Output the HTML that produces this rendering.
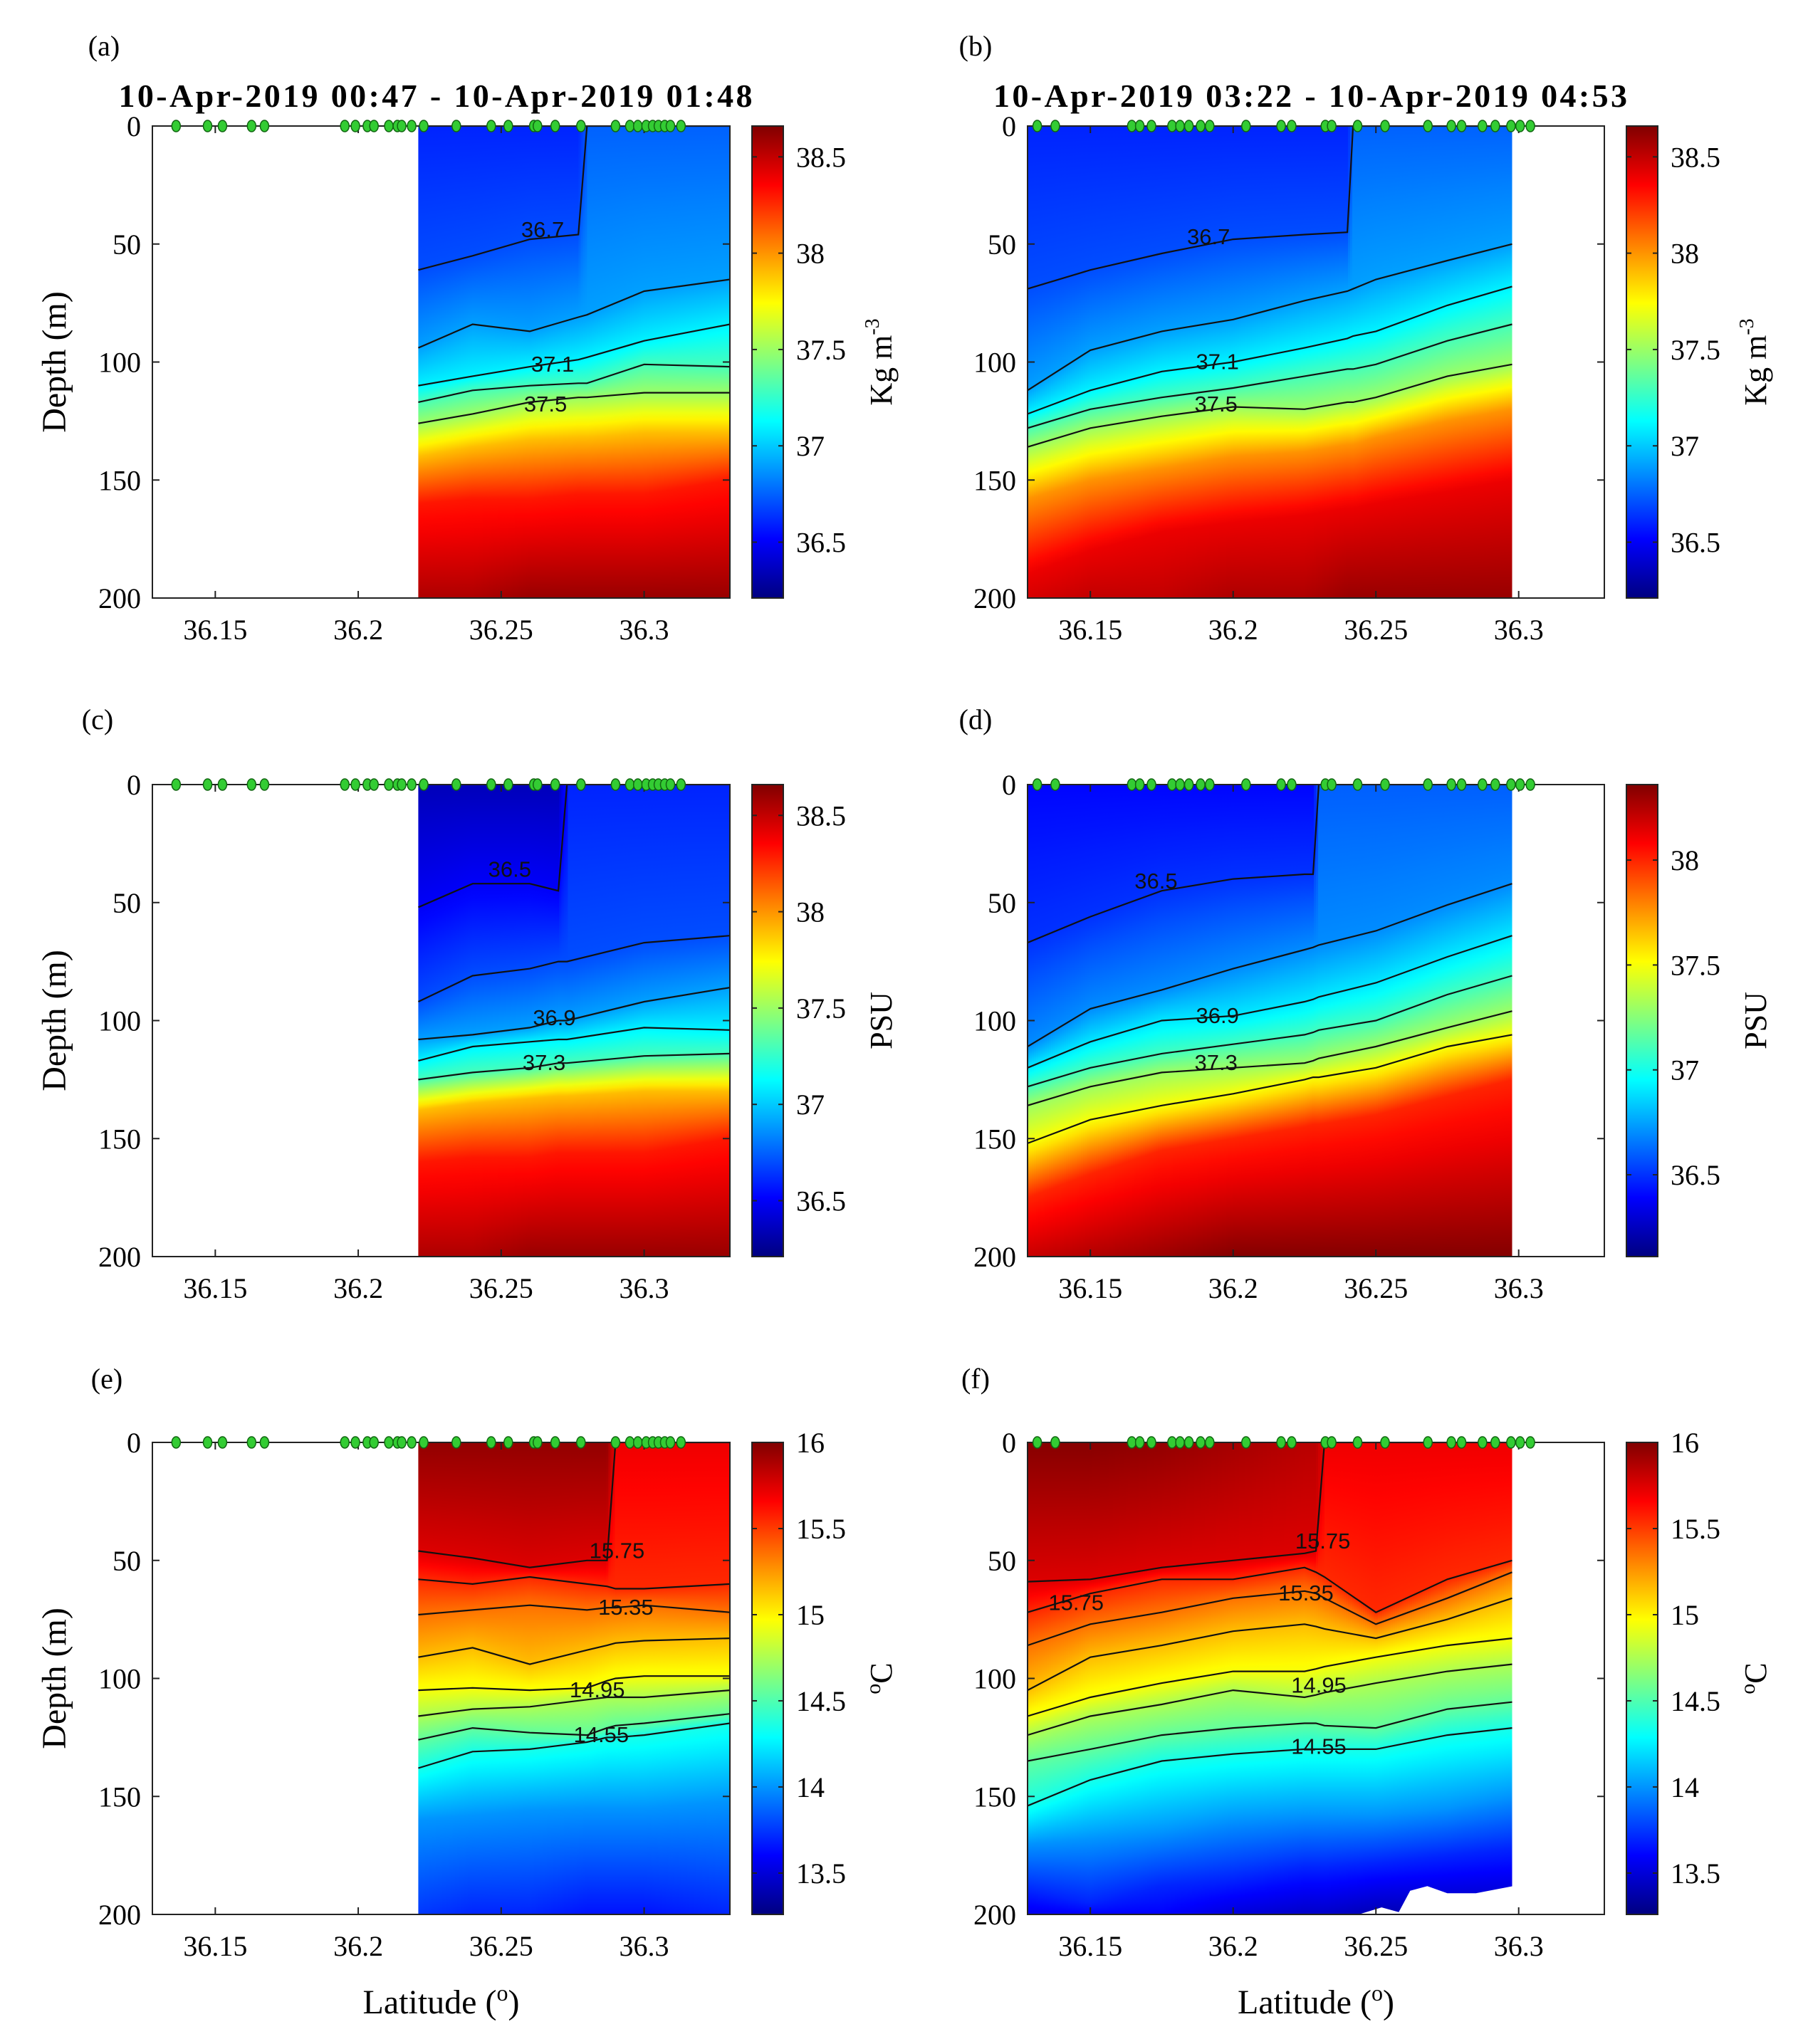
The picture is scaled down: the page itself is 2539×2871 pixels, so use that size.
<!DOCTYPE html>
<html><head><meta charset="utf-8"><style>
html,body{margin:0;padding:0;background:#fff}
svg text{font-family:"Liberation Serif",serif}
</style></head><body>
<svg id="fig" xmlns="http://www.w3.org/2000/svg" width="2539" height="2866" viewBox="0 0 2539 2866"></svg>
<script>
// ---------- data ----------
const xTickVals=[36.15,36.2,36.25,36.3];
const yTickVals=[0,50,100,150,200];
const densTicks=[36.5,37,37.5,38,38.5];
const salDTicks=[36.5,37,37.5,38];
const tempTicks=[13.5,14,14.5,15,15.5,16];
const stationsLeft=[36.1363,36.1473,36.1525,36.1627,36.1672,36.1953,36.199,36.2032,36.2055,36.2107,36.2137,36.2152,36.2187,36.2229,36.2343,36.2465,36.2525,36.2614,36.2627,36.2689,36.2779,36.29,36.295,36.2978,36.3007,36.303,36.305,36.3072,36.3092,36.3129];
const stationsRight=[36.1314,36.1377,36.1645,36.1673,36.1714,36.1786,36.1814,36.1845,36.1886,36.1918,36.2045,36.2168,36.2205,36.2323,36.2345,36.2436,36.2532,36.2682,36.2764,36.28,36.2873,36.2918,36.2973,36.3005,36.3041];

const aLats=[36.221,36.24,36.26,36.277,36.28,36.30,36.33];
const aLevels=[36.7,36.9,37.1,37.3,37.5,37.9,38.3];
const aDepths=[[61,55,48,46,0,0,0],[94,84,87,81,80,70,65],[110,106,102,99,98,91,84],[117,112,110,109,109,101,102],[126,122,117,115,115,113,113],[140,136,133,132,132,130,130],[160,158,158,156,156,156,150]];
const aTop=[36.6,36.6,36.6,36.6,36.75,36.75,36.75];
const aBot=[38.55,38.55,38.6,38.6,38.6,38.6,38.6];
const aLabels=[[36.2645,44,"36.7"],[36.268,101,"37.1"],[36.2655,118,"37.5"]];

const bLats=[36.128,36.15,36.175,36.2,36.225,36.24,36.242,36.25,36.275,36.298];
const bLevels=[36.7,36.9,37.1,37.3,37.5,38.0,38.4];
const bDepths=[[69,61,54,48,46,45,0,0,0,0],[112,95,87,82,74,70,69,65,57,50],[122,112,104,100,94,90,89,87,76,68],[128,120,115,111,106,103,103,101,91,84],[136,128,123,119,120,117,117,115,106,101],[158,150,145,140,138,135,135,132,125,120],[190,180,172,168,165,162,162,160,155,150]];
const bTop=[36.6,36.6,36.6,36.6,36.6,36.6,36.75,36.75,36.75,36.75];
const bBot=[38.45,38.5,38.5,38.55,38.55,38.6,38.6,38.6,38.6,38.6];
const bLabels=[[36.1914,47,"36.7"],[36.1945,100,"37.1"],[36.194,118,"37.5"]];

const cLats=[36.221,36.24,36.26,36.27,36.273,36.30,36.33];
const cLevels=[36.5,36.7,36.9,37.1,37.3,37.9,38.3];
const cDepths=[[52,42,42,45,0,0,0],[92,81,78,75,75,67,64],[108,106,103,100,100,92,86],[117,111,109,108,108,103,104],[125,122,120,118,118,115,114],[138,135,133,132,132,130,130],[160,158,158,156,156,156,150]];
const cTop=[36.35,36.35,36.35,36.35,36.6,36.6,36.6];
const cBot=[38.55,38.55,38.6,38.6,38.6,38.6,38.6];
const cLabels=[[36.253,36,"36.5"],[36.2686,99,"36.9"],[36.265,118,"37.3"]];

const dLats=[36.128,36.15,36.175,36.2,36.225,36.228,36.23,36.25,36.275,36.298];
const dLevels=[36.5,36.7,36.9,37.1,37.3,37.5,38.0];
const dDepths=[[67,56,45,40,38,38,0,0,0,0],[111,95,87,78,70,69,68,62,51,42],[120,109,100,98,92,91,90,84,73,64],[128,120,114,110,106,105,104,100,89,81],[136,128,122,120,118,117,116,111,103,96],[152,142,136,131,125,124,124,120,111,106],[175,165,155,150,145,144,144,140,132,125]];
const dTop=[36.4,36.4,36.4,36.4,36.4,36.4,36.6,36.6,36.6,36.6];
const dBot=[38.2,38.25,38.3,38.35,38.35,38.35,38.35,38.35,38.35,38.35];
const dLabels=[[36.173,41,"36.5"],[36.1945,98,"36.9"],[36.194,118,"37.3"]];

const eLats=[36.221,36.24,36.26,36.28,36.287,36.29,36.30,36.33];
const eLevels=[15.75,15.55,15.35,15.15,14.95,14.75,14.55,14.35,14.0];
const eDepths=[[46,49,53,50,50,0,0,0],[58,60,57,60,61,62,62,60],[73,71,69,71,70,70,69,72],[91,87,94,88,86,85,84,83],[105,104,105,104,101,100,99,99],[116,113,112,109,108,108,108,105],[126,121,123,124,121,120,119,115],[138,131,130,127,125,125,124,119],[160,158,156,155,155,155,155,152]];
const eTop=[15.95,15.95,15.95,15.95,15.95,15.7,15.7,15.7];
const eBot=[13.75,13.7,13.7,13.65,13.65,13.65,13.65,13.7];
const eLabels=[[36.2905,46,"15.75"],[36.2936,70,"15.35"],[36.2836,105,"14.95"],[36.285,124,"14.55"]];

const fLats=[36.128,36.15,36.175,36.2,36.225,36.229,36.232,36.25,36.275,36.298];
const fLevels=[15.75,15.55,15.35,15.15,14.95,14.75,14.55,14.35,14.0,13.7];
const fDepths=[[59,58,53,50,47,46,0,0,0,0],[72,64,58,58,53,55,57,72,58,50],[86,77,72,66,63,64,66,77,66,55],[105,91,86,80,77,78,79,83,75,66],[116,108,102,97,97,96,95,91,86,83],[124,116,111,105,108,107,106,102,97,94],[135,130,124,121,119,119,120,121,113,110],[154,143,135,132,130,130,130,130,124,121],[170,168,165,160,158,158,158,158,155,150],[190,195,188,185,180,180,180,178,175,172]];
const fTop=[15.98,15.98,15.95,15.9,15.85,15.85,15.7,15.7,15.7,15.7];
const fBot=[13.55,13.6,13.6,13.5,13.45,13.45,13.45,13.4,13.4,13.4];
const fLabels=[[36.2314,42,"15.75"],[36.2255,64,"15.35"],[36.23,103,"14.95"],[36.23,129,"14.55"],[36.145,68,"15.75"]];
const fNotchLats=[36.244,36.252,36.258,36.262,36.268,36.275,36.285,36.298];
const fNotchDepths=[200,197,199,190,188,191,191,188];

// ---------- layout ----------
const NS="http://www.w3.org/2000/svg";
const svg=document.getElementById('fig');
const defs=document.createElementNS(NS,'defs');svg.appendChild(defs);
const X0=36.128,X1=36.330;
const colX=[214,1443],colW=[811,810],cbX=[1056,2284],cbW=44;
const rowY=[177,1102,2026],H=663;
function mk(tag,attrs,parent){const e=document.createElementNS(NS,tag);for(const k in attrs)e.setAttribute(k,attrs[k]);(parent||svg).appendChild(e);return e;}
function jet(t){t=Math.max(0,Math.min(1,t));const c=v=>Math.round(255*Math.max(0,Math.min(1,v)));return `rgb(${c(1.5-Math.abs(4*t-3))},${c(1.5-Math.abs(4*t-2))},${c(1.5-Math.abs(4*t-1))})`;}
function lerpArr(xs,ys,x){if(x<=xs[0])return ys[0];for(let i=1;i<xs.length;i++){if(x<=xs[i]){const f=(x-xs[i-1])/(xs[i]-xs[i-1]);return ys[i-1]+f*(ys[i]-ys[i-1]);}}return ys[ys.length-1];}

const panels=[
 {id:'a',col:0,row:0,lats:aLats,levels:aLevels,depths:aDepths,top:aTop,bot:aBot,labels:aLabels,drawn:5,vmin:36.21,vmax:38.66,ticks:densTicks,unit:'Kg m',sup:'-3',x0:36.221,x1:36.330,stations:stationsLeft,title:'10-Apr-2019 00:47 - 10-Apr-2019 01:48',lab:'(a)',lx:146,ly:78},
 {id:'b',col:1,row:0,lats:bLats,levels:bLevels,depths:bDepths,top:bTop,bot:bBot,labels:bLabels,drawn:5,vmin:36.21,vmax:38.66,ticks:densTicks,unit:'Kg m',sup:'-3',x0:36.128,x1:36.2977,stations:stationsRight,title:'10-Apr-2019 03:22 - 10-Apr-2019 04:53',lab:'(b)',lx:1370,ly:78},
 {id:'c',col:0,row:1,lats:cLats,levels:cLevels,depths:cDepths,top:cTop,bot:cBot,labels:cLabels,drawn:5,vmin:36.21,vmax:38.66,ticks:densTicks,unit:'PSU',x0:36.221,x1:36.330,stations:stationsLeft,lab:'(c)',lx:137,ly:1024},
 {id:'d',col:1,row:1,lats:dLats,levels:dLevels,depths:dDepths,top:dTop,bot:dBot,labels:dLabels,drawn:6,vmin:36.11,vmax:38.36,ticks:salDTicks,unit:'PSU',x0:36.128,x1:36.2977,stations:stationsRight,lab:'(d)',lx:1370,ly:1024},
 {id:'e',col:0,row:2,lats:eLats,levels:eLevels,depths:eDepths,top:eTop,bot:eBot,labels:eLabels,drawn:8,vmin:13.26,vmax:16.0,ticks:tempTicks,unit:'C',deg:true,x0:36.221,x1:36.330,stations:stationsLeft,lab:'(e)',lx:150,ly:1950},
 {id:'f',col:1,row:2,lats:fLats,levels:fLevels,depths:fDepths,top:fTop,bot:fBot,labels:fLabels,drawn:8,vmin:13.26,vmax:16.0,ticks:tempTicks,unit:'C',deg:true,x0:36.128,x1:36.2977,stations:stationsRight,lab:'(f)',lx:1370,ly:1950}
];

panels.forEach(p=>{
  const px=colX[p.col],pw=colW[p.col],py=rowY[p.row];
  const xs=v=>px+(v-X0)/(X1-X0)*pw;
  const ys=d=>py+d/200*H;
  const norm=v=>(v-p.vmin)/(p.vmax-p.vmin);
  const g=mk('g',{});
  const clip=mk('clipPath',{id:'clip-'+p.id},defs);mk('rect',{x:px,y:py,width:pw,height:H},clip);
  const field=mk('g',{'clip-path':'url(#clip-'+p.id+')'},g);
  const xa=xs(p.x0),xb=xs(p.x1);const step=3;
  for(let x=xa;x<xb;x+=step){
    const lat=X0+(x+step/2-px)/pw*(X1-X0);
    const stops=[[0,lerpArr(p.lats,p.top,lat)]];
    p.levels.forEach((lv,i)=>{const d=lerpArr(p.lats,p.depths[i],lat);if(d>1&&d>stops[stops.length-1][0])stops.push([d,lv]);});
    stops.push([200,lerpArr(p.lats,p.bot,lat)]);
    const gid='g'+p.id+Math.round(x);
    const lg=mk('linearGradient',{id:gid,x1:0,y1:0,x2:0,y2:1},defs);
    for(let s=0;s<stops.length-1;s++){const [d0,v0]=stops[s],[d1,v1]=stops[s+1];
      for(let k=0;k<6;k++){const f=k/6;mk('stop',{offset:((d0+f*(d1-d0))/200).toFixed(4),'stop-color':jet(norm(v0+f*(v1-v0)))},lg);}}
    mk('stop',{offset:1,'stop-color':jet(norm(stops[stops.length-1][1]))},lg);
    const r=mk('rect',{x:x.toFixed(1),y:py,width:(Math.min(step+0.6,xb-x)).toFixed(1),height:H,fill:'url(#'+gid+')'},field);
    
    
  }
  if(p.id==='f'){
    let d='M'+xs(fNotchLats[0])+','+ys(200);
    fNotchLats.forEach((l,i)=>{d+=' L'+xs(l).toFixed(1)+','+ys(fNotchDepths[i]).toFixed(1);});
    d+=' L'+(xb+2)+','+ys(fNotchDepths[fNotchDepths.length-1])+' L'+(xb+2)+','+ys(200)+' Z';
    mk('path',{d:d,fill:'#fff',},g);
  }
  for(let i=0;i<p.drawn;i++){
    const pts=p.lats.map((l,j)=>xs(Math.min(Math.max(l,p.x0),p.x1)).toFixed(1)+','+ys(p.depths[i][j]).toFixed(1)).join(' ');
    const pl=mk('polyline',{points:pts,fill:'none',stroke:'#111','stroke-width':2.2,'clip-path':'url(#clip-'+p.id+')'},g);
    
    
  }
  p.labels.forEach(L=>{
    const t=mk('text',{x:xs(L[0]),y:ys(L[1])+10,'text-anchor':'middle','font-size':31,fill:'#111',style:'font-family:"Liberation Sans",sans-serif'},g);
    t.textContent=L[2];
    
    
  });
  mk('rect',{x:px,y:py,width:pw,height:H,fill:'none',stroke:'#222','stroke-width':2,},g);
  yTickVals.forEach(v=>{
    const y=ys(v);
    mk('line',{x1:px,y1:y,x2:px+10,y2:y,stroke:'#222','stroke-width':2},g);
    mk('line',{x1:px+pw,y1:y,x2:px+pw-10,y2:y,stroke:'#222','stroke-width':2},g);
    const t=mk('text',{x:px-16,y:y+14,'text-anchor':'end','font-size':40},g);t.textContent=v;
    
  });
  xTickVals.forEach(v=>{
    const x=xs(v);
    mk('line',{x1:x,y1:py+H,x2:x,y2:py+H-10,stroke:'#222','stroke-width':2},g);
    mk('line',{x1:x,y1:py,x2:x,y2:py+10,stroke:'#222','stroke-width':2},g);
    const t=mk('text',{x:x,y:py+H+58,'text-anchor':'middle','font-size':40},g);t.textContent=v;
    
  });
  p.stations.forEach(s=>{
    const c=mk('ellipse',{cx:xs(s).toFixed(1),cy:py,rx:6,ry:8,fill:'#33cc33',stroke:'#116611','stroke-width':1.5},g);
    
    
  });
  const cx=cbX[p.col];
  const cg=mk('linearGradient',{id:'cb'+p.id,x1:0,y1:1,x2:0,y2:0},defs);
  for(let k=0;k<=8;k++)mk('stop',{offset:k/8,'stop-color':jet(k/8)},cg);
  mk('rect',{x:cx,y:py,width:cbW,height:H,fill:'url(#cb'+p.id+')',stroke:'#222','stroke-width':2,},g);
  p.ticks.forEach(v=>{
    const y=py+H-(v-p.vmin)/(p.vmax-p.vmin)*H;
    mk('line',{x1:cx,y1:y,x2:cx+7,y2:y,stroke:'#222','stroke-width':2},g);
    mk('line',{x1:cx+cbW,y1:y,x2:cx+cbW-7,y2:y,stroke:'#222','stroke-width':2},g);
    const t=mk('text',{x:cx+cbW+18,y:y+14,'font-size':40},g);t.textContent=v;
    
  });
  const ux=cx+cbW+152,uy=py+H/2;
  const ut=mk('text',{x:ux,y:uy,'text-anchor':'middle','font-size':44,transform:`rotate(-90 ${ux} ${uy})`,},g);
  if(p.deg){const s=mk('tspan',{'font-size':30,dy:-16},ut);s.textContent='o';const s2=mk('tspan',{dy:16},ut);s2.textContent='C';}
  else{const s=mk('tspan',{},ut);s.textContent=p.unit;if(p.sup){const s2=mk('tspan',{'font-size':28,dy:-18},ut);s2.textContent=p.sup;}}
  const lt=mk('text',{x:p.lx,y:p.ly,'text-anchor':'middle','font-size':40,},g);lt.textContent=p.lab;
  if(p.title){const tt=mk('text',{x:px+pw/2-8,y:py-27,'text-anchor':'middle','font-size':46,'font-weight':'bold',textLength:890,},g);tt.textContent=p.title;}
  if(p.col===0){const yx=92,yy=py+H/2;const yt=mk('text',{x:yx,y:yy,'text-anchor':'middle','font-size':48,transform:`rotate(-90 ${yx} ${yy})`,},g);yt.textContent='Depth (m)';}
  if(p.row===2){const xt=mk('text',{x:px+pw/2,y:2828,'text-anchor':'middle','font-size':48,},g);
    const a=mk('tspan',{},xt);a.textContent='Latitude (';const b=mk('tspan',{'font-size':32,dy:-18},xt);b.textContent='o';const c=mk('tspan',{dy:18},xt);c.textContent=')';}
});
</script>
</body></html>
